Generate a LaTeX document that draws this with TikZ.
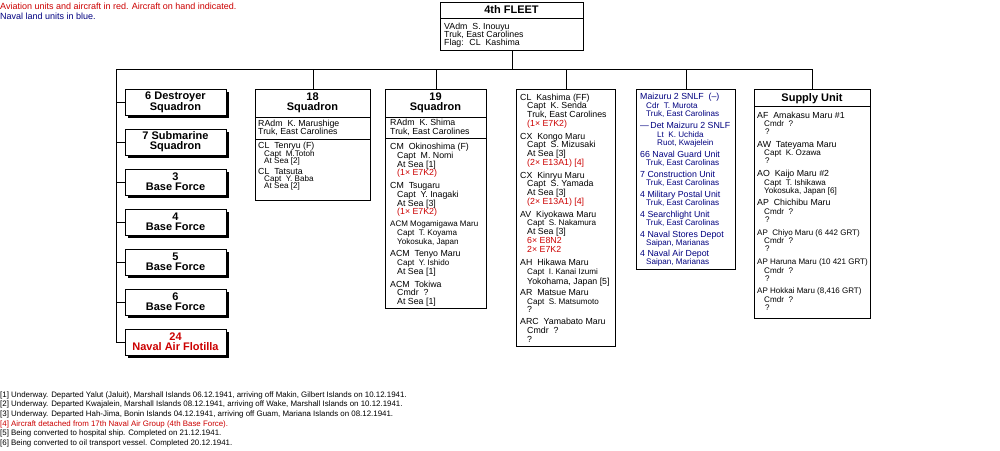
\documentclass[tikz,border=0pt]{standalone}
\usepackage{fontspec}
\setmainfont{Liberation Sans}
\usetikzlibrary{shadows}
\definecolor{avred}{RGB}{204,0,0}
\definecolor{landblue}{RGB}{0,0,128}
\newcommand\mainfs{\fontsize{8.8}{9}\selectfont}
\newcommand\subfs{\fontsize{8.1}{8}\selectfont}
\newcommand\tightfs{\fontsize{8.0}{9}\selectfont}
\newcommand\hdrfont{\bfseries\fontsize{11}{10}\selectfont}
\newcommand\legfs{\fontsize{9}{10}\selectfont}
\newcommand\footfs{\fontsize{7.9}{9}\selectfont}
\newcounter{tl}
\newcommand\tline[4][]{\stepcounter{tl}\node[txt,#1] (tl\arabic{tl}) at (#2,{#3+3}) {#4};}
\tikzset{
  frame/.style={draw, line width=1pt, inner sep=0pt, anchor=north west},
  unitbox/.style={draw, fill=white, line width=1pt, inner sep=0pt,
    minimum width=101pt, minimum height=26pt, align=center, font=\hdrfont,
    drop shadow={opacity=1, fill=black, shadow xshift=3pt, shadow yshift=-3pt}},
  hdr/.style={inner sep=0pt, align=center, font=\hdrfont},
  txt/.style={anchor=base west, inner sep=0pt, font=\mainfs},
  subl/.style={font=\subfs},
  tight/.style={font=\tightfs},
  foot/.style={font=\footfs},
  redt/.style={text=avred},
  bluet/.style={text=landblue},
  conn/.style={line width=1pt},
  sep/.style={line width=1pt},
}
\begin{document}
\begin{tikzpicture}[x=1pt,y=-1pt]
\path[fill=white, use as bounding box] (0,0) rectangle (1000,450);

% legend
\tline[font=\legfs, redt]{0}{6.5}{Aviation units and aircraft in red. Aircraft on hand indicated.}
\tline[font=\legfs, bluet]{0}{16}{Naval land units in blue.}

% top box
\node[frame, minimum width=143pt, minimum height=48pt] (fleet) at (440,2) {};
\draw[sep] (fleet.west |- 0,18) -- (fleet.east |- 0,18);
\node[hdr] (fleetT) at (511.5,10) {4th FLEET};
\tline{444}{26.5}{VAdm~ S. Inouyu}
\tline{444}{34.5}{Truk, East Carolines}
\tline{444}{42.5}{Flag:~ CL~ Kashima}

% bus
\coordinate (busL) at (116,69);

% left stack
\node[unitbox] (u1) at (175.5,102) {6 Destroyer\\Squadron};
\node[unitbox] (u2) at (175.5,142) {7 Submarine\\Squadron};
\node[unitbox] (u3) at (175.5,182) {3\\Base Force};
\node[unitbox] (u4) at (175.5,222) {4\\Base Force};
\node[unitbox] (u5) at (175.5,262) {5\\Base Force};
\node[unitbox] (u6) at (175.5,302) {6\\Base Force};
\node[unitbox, text=avred] (u7) at (175.5,342) {24\\Naval Air Flotilla};

% 18 Squadron
\node[frame, minimum width=115pt, minimum height=111pt] (sq18) at (255,89) {};
\draw[sep] (sq18.west |- 0,117) -- (sq18.east |- 0,117);
\draw[sep] (sq18.west |- 0,139) -- (sq18.east |- 0,139);
\node[hdr] (h18) at (312.5,103) {18\\Squadron};
\tline{258}{123.5}{RAdm~ K. Marushige}
\tline{258}{131.7}{Truk, East Carolines}
\tline{258}{145.7}{CL~ Tenryu (F)}
\tline[subl]{264}{153.3}{Capt~ M.Totoh}
\tline[subl]{264}{160.5}{At Sea [2]}
\tline{258}{171}{CL~ Tatsuta}
\tline[subl]{264}{178.3}{Capt~ Y. Baba}
\tline[subl]{264}{185.7}{At Sea [2]}

% 19 Squadron
\node[frame, minimum width=101pt, minimum height=219pt] (sq19) at (385,89) {};
\draw[sep] (sq19.west |- 0,117.3) -- (sq19.east |- 0,117.3);
\draw[sep] (sq19.west |- 0,138.3) -- (sq19.east |- 0,138.3);
\node[hdr] (h19) at (435.5,103) {19\\Squadron};
\tline{390}{122.7}{RAdm~ K. Shima}
\tline{390}{131.7}{Truk, East Carolines}
\tline{390}{146.7}{CM~ Okinoshima (F)}
\tline{397}{155}{Capt~ M. Nomi}
\tline{397}{164}{At Sea [1]}
\tline[redt]{397}{172.7}{(1× E7K2)}
\tline{390}{185}{CM~ Tsugaru}
\tline{397}{194.3}{Capt~ Y. Inagaki}
\tline{397}{203}{At Sea [3]}
\tline[redt]{397}{211.7}{(1× E7K2)}
\tline[tight]{390}{223.3}{ACM Mogamigawa Maru}
\tline[subl]{397}{232.3}{Capt~ T. Koyama}
\tline[subl]{397}{241.7}{Yokosuka, Japan}
\tline{390}{253.3}{ACM~ Tenyo Maru}
\tline[subl]{397}{262.7}{Capt~ Y. Ishido}
\tline{397}{271.7}{At Sea [1]}
\tline{390}{284}{ACM~ Tokiwa}
\tline{397}{292.7}{Cmdr~ ?}
\tline{397}{301.7}{At Sea [1]}

% Kashima column
\node[frame, minimum width=99pt, minimum height=257pt] (kash) at (516,89) {};
\tline{520}{97.3}{CL~ Kashima (FF)}
\tline{527}{105.7}{Capt~ K. Senda}
\tline{527}{114.3}{Truk, East Carolines}
\tline[redt]{527}{123.3}{(1× E7K2)}
\tline{520}{136}{CX~ Kongo Maru}
\tline{527}{144.3}{Capt~ S. Mizusaki}
\tline{527}{153.3}{At Sea [3]}
\tline[redt]{527}{162.3}{(2× E13A1) [4]}
\tline{520}{175}{CX~ Kinryu Maru}
\tline{527}{183.7}{Capt~ S. Yamada}
\tline{527}{192.3}{At Sea [3]}
\tline[redt]{527}{201.3}{(2× E13A1) [4]}
\tline{520}{214}{AV~ Kiyokawa Maru}
\tline[subl]{527}{222.5}{Capt~ S. Nakamura}
\tline{527}{231}{At Sea [3]}
\tline[redt]{527}{240}{6× E8N2}
\tline[redt]{527}{249}{2× E7K2}
\tline{520}{262.3}{AH~ Hikawa Maru}
\tline[subl]{527}{271}{Capt~ I. Kanai Izumi}
\tline{527}{281}{Yokohama, Japan [5]}
\tline{520}{292.3}{AR~ Matsue Maru}
\tline[subl]{527}{301}{Capt~ S. Matsumoto}
\tline{527}{309}{?}
\tline{520}{321.7}{ARC~ Yamabato Maru}
\tline{527}{330.7}{Cmdr~ ?}
\tline{527}{339}{?}

% Maizuru column
\node[frame, minimum width=99pt, minimum height=180pt] (maiz) at (636,89) {};
\tline[bluet]{640}{96.7}{Maizuru 2 SNLF~ (–)}
\tline[bluet,subl]{646}{105}{Cdr~ T. Murota}
\tline[bluet,subl]{646}{113.3}{Truk, East Carolinas}
\tline[bluet]{640}{125}{—\,Det Maizuru 2 SNLF}
\tline[bluet,subl]{657}{134.3}{Lt~ K. Uchida}
\tline[bluet,subl]{657}{142.3}{Ruot, Kwajelein}
\tline[bluet]{640}{154.3}{66 Naval Guard Unit}
\tline[bluet,subl]{646}{162.7}{Truk, East Carolinas}
\tline[bluet]{640}{174.3}{7 Construction Unit}
\tline[bluet,subl]{646}{182.3}{Truk, East Carolinas}
\tline[bluet]{640}{194.3}{4 Military Postal Unit}
\tline[bluet,subl]{646}{202.3}{Truk, East Carolinas}
\tline[bluet]{640}{214.3}{4 Searchlight Unit}
\tline[bluet,subl]{646}{222.3}{Truk, East Carolinas}
\tline[bluet]{640}{234}{4 Naval Stores Depot}
\tline[bluet,subl]{646}{242.3}{Saipan, Marianas}
\tline[bluet]{640}{253.3}{4 Naval Air Depot}
\tline[bluet,subl]{646}{261.7}{Saipan, Marianas}

% Supply Unit
\node[frame, minimum width=116pt, minimum height=229pt] (supply) at (754,89) {};
\draw[sep] (supply.west |- 0,106.5) -- (supply.east |- 0,106.5);
\node[hdr] (supT) at (812,98.5) {Supply Unit};
\tline{757}{115}{AF~ Amakasu Maru \#1}
\tline[subl]{764}{123.5}{Cmdr~ ?}
\tline[subl]{765}{131.5}{?}
\tline{757}{144.3}{AW~ Tateyama Maru}
\tline[subl]{764}{152.8}{Capt~ K. Ozawa}
\tline[subl]{765}{160.8}{?}
\tline{757}{173.6}{AO~ Kaijo Maru \#2}
\tline[subl]{764}{182.1}{Capt~ T. Ishikawa}
\tline[subl]{764}{190.1}{Yokosuka, Japan [6]}
\tline{757}{202.9}{AP~ Chichibu Maru}
\tline[subl]{764}{211.4}{Cmdr~ ?}
\tline[subl]{765}{219.4}{?}
\tline[tight]{757}{232.2}{AP~ Chiyo Maru (6 442 GRT)}
\tline[subl]{764}{240.7}{Cmdr~ ?}
\tline[subl]{765}{248.7}{?}
\tline[tight]{757}{261.5}{AP Haruna Maru (10 421 GRT)}
\tline[subl]{764}{270}{Cmdr~ ?}
\tline[subl]{765}{278}{?}
\tline[tight]{757}{290.8}{AP Hokkai Maru (8,416 GRT)}
\tline[subl]{764}{299.3}{Cmdr~ ?}
\tline[subl]{765}{307.3}{?}

% connectors
\draw[conn] (fleet.south) -- (fleet.south |- busL);
\draw[conn] (busL) -- (supply.north |- busL);
\draw[conn] (sq18.north) -- (sq18.north |- busL);
\draw[conn] (sq19.north) -- (sq19.north |- busL);
\draw[conn] (kash.north) -- (kash.north |- busL);
\draw[conn] (maiz.north) -- (maiz.north |- busL);
\draw[conn] (supply.north) -- (supply.north |- busL);
\draw[conn] (busL) -- (busL |- u7.west);
\foreach \u in {u1,u2,u3,u4,u5,u6,u7}{
  \draw[conn] (busL |- \u.west) -- (\u.west);
}

% footnotes
\tline[foot]{0}{394}{[1] Underway. Departed Yalut (Jaluit), Marshall Islands 06.12.1941, arriving off Makin, Gilbert Islands on 10.12.1941.}
\tline[foot]{0}{403.7}{[2] Underway. Departed Kwajalein, Marshall Islands 08.12.1941, arriving off Wake, Marshall Islands on 10.12.1941.}
\tline[foot]{0}{413.3}{[3] Underway. Departed Hah-Jima, Bonin Islands 04.12.1941, arriving off Guam, Mariana Islands on 08.12.1941.}
\tline[foot,redt]{0}{423.2}{[4] Aircraft detached from 17th Naval Air Group (4th Base Force).}
\tline[foot]{0}{432.9}{[5] Being converted to hospital ship. Completed on 21.12.1941.}
\tline[foot]{0}{442.6}{[6] Being converted to oil transport vessel. Completed 20.12.1941.}
\end{tikzpicture}
\end{document}
